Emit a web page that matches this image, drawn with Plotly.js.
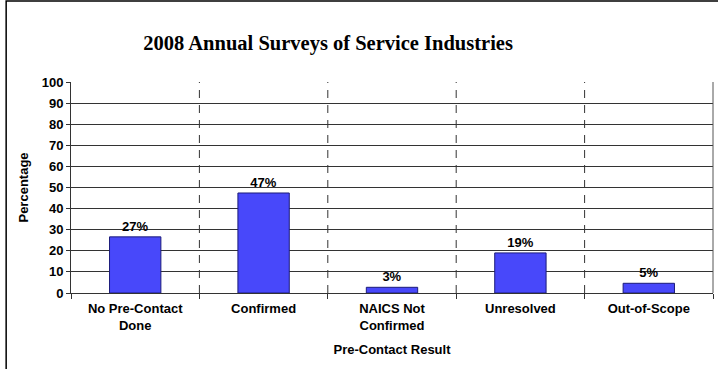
<!DOCTYPE html>
<html>
<head>
<meta charset="utf-8">
<script src="https://cdn.plot.ly/plotly-3.0.1.min.js"></script>
<style>html,body{margin:0;padding:0;background:#fff;}#chart{width:718px;height:369px;}</style>
</head>
<body>
<div id="chart"></div>
<script>
const categories = ['No Pre-Contact<br>Done', 'Confirmed', 'NAICS Not<br>Confirmed', 'Unresolved', 'Out-of-Scope'];
const values = [26.6, 47.4, 2.7, 19.0, 4.6];
const valueLabels = ['27%', '47%', '3%', '19%', '5%'];
const yTicks = [0, 10, 20, 30, 40, 50, 60, 70, 80, 90, 100];

const sans = 'Liberation Sans, Arial, sans-serif';

const trace = {
  type: 'bar',
  x: categories,
  y: values,
  text: valueLabels,
  textposition: 'outside',
  cliponaxis: false,
  textfont: {family: sans, size: 13, color: '#000', weight: 'bold'},
  width: 0.4,
  marker: {color: '#4848fa', line: {color: '#1c1c7a', width: 1}},
  hoverinfo: 'none'
};

const shapes = [];
for (let i = 0; i < categories.length - 1; i++) {
  shapes.push({type: 'line', xref: 'x', yref: 'paper', x0: i + 0.5, x1: i + 0.5, y0: 0, y1: 1,
    line: {color: '#333', width: 1, dash: '8px,7px'}, layer: 'below'});
}
// outer chart frame
shapes.push({type: 'rect', xref: 'paper', yref: 'paper', x0: -0.101, x1: 1.2, y0: -0.6, y1: 1.384,
  line: {color: '#000', width: 1.5}, fillcolor: 'rgba(0,0,0,0)'});
// right plot edge
shapes.push({type: 'line', xref: 'paper', yref: 'paper', x0: 1, x1: 1, y0: 0, y1: 1,
  line: {color: '#555', width: 1}});

const layout = {
  width: 718, height: 369,
  margin: {l: 71, r: 5, t: 82, b: 76},
  paper_bgcolor: '#fff', plot_bgcolor: '#fff',
  showlegend: false,
  title: {
    text: '<b>2008 Annual Surveys of Service Industries</b>',
    font: {family: 'Liberation Serif, Times New Roman, serif', size: 20.5, color: '#000'},
    xref: 'container', yref: 'container', x: 0.457, xanchor: 'center', y: 0.883, yanchor: 'middle'
  },
  xaxis: {
    type: 'category',
    range: [-0.5, 4.5],
    showgrid: false,
    showline: true, linecolor: '#333', linewidth: 1,
    ticks: 'outside', ticklen: 5, tickcolor: '#333', tickson: 'boundaries',
    ticklabelstandoff: 3,
    tickfont: {family: sans, size: 13, color: '#000', weight: 'bold'},
    title: {text: '<b>Pre-Contact Result</b>', font: {family: sans, size: 13, color: '#000'}, standoff: 13}
  },
  yaxis: {
    range: [0, 100],
    tickvals: yTicks,
    ticktext: yTicks.map(String),
    showgrid: true, gridcolor: '#333', gridwidth: 1,
    showline: true, linecolor: '#333', linewidth: 1,
    ticks: 'outside', ticklen: 4, tickcolor: '#333',
    zeroline: false,
    tickfont: {family: sans, size: 13, color: '#000', weight: 'bold'},
    title: {text: '<b>Percentage</b>', font: {family: sans, size: 13, color: '#000'}, standoff: 10}
  },
  shapes: shapes
};

Plotly.newPlot('chart', [trace], layout, {displayModeBar: false, staticPlot: true});
</script>
</body>
</html>
